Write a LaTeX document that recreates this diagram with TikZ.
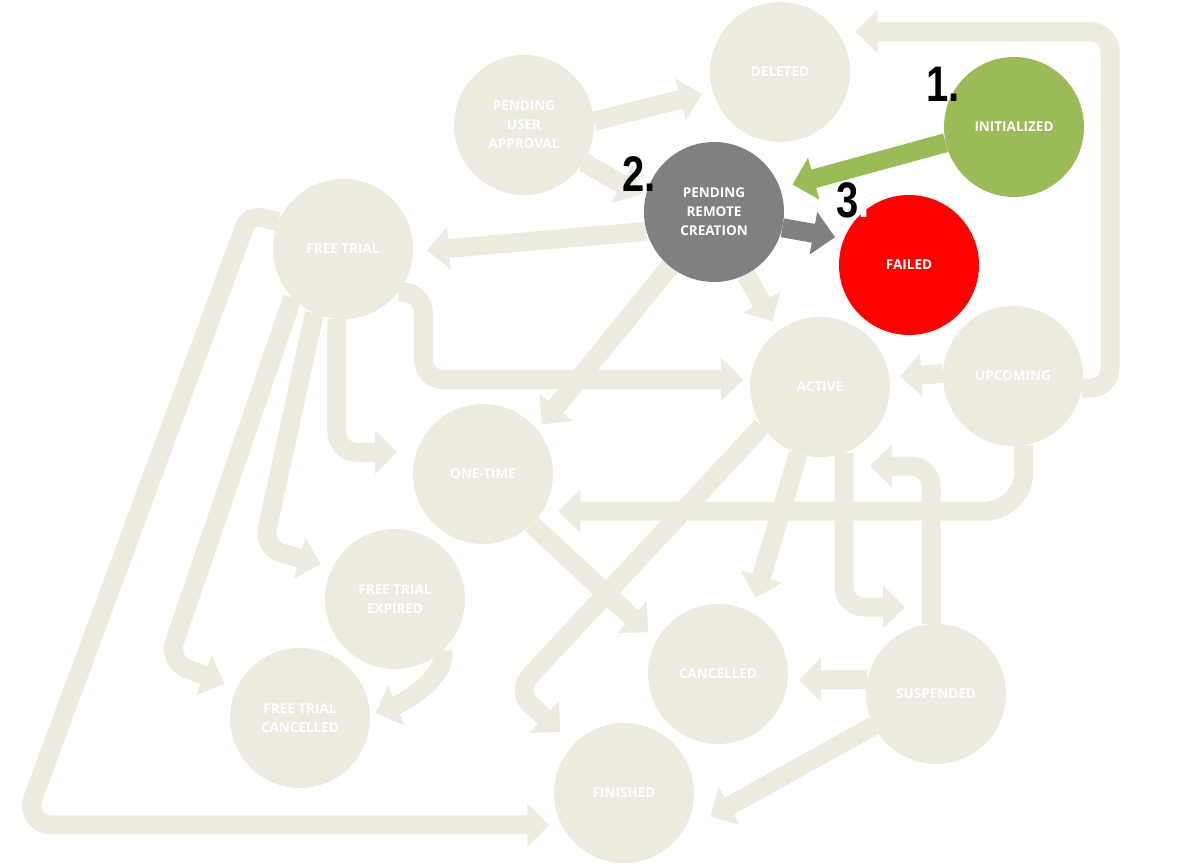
\documentclass[tikz,border=0pt]{standalone}
\usepackage{fontspec}
\usepackage{graphicx}
\setmainfont{Open Sans}
\newfontfamily\numfont{Liberation Sans}
\usetikzlibrary{arrows.meta}
\definecolor{beige}{HTML}{EDEBE0}
\definecolor{initgreen}{HTML}{9BBB59}
\definecolor{prcgray}{HTML}{808080}
\definecolor{failred}{HTML}{FF0000}
\pgfdeclarelayer{bg}
\pgfsetlayers{bg,main}
\begin{document}
\begin{tikzpicture}[x=1pt,y=-1pt,
  state/.style={circle,minimum size=140pt,inner sep=0pt,fill=beige,text=white,
    font=\fontsize{13.5}{19}\selectfont\bfseries,align=center},
  conn/.style={draw=beige,line width=19pt,-{Triangle[width=42pt,length=22pt]},rounded corners=20pt},
  num/.style={font=\numfont\bfseries\fontsize{50}{50}\selectfont,inner sep=0pt,anchor=base west,text=black}]
\useasboundingbox (0,0) rectangle (1200,864);

\node[state] (DEL) at (780,72) {DELETED};
\node[state] (PUA) at (524,125) {PENDING\\USER\\APPROVAL};
\node[state,fill=prcgray] (PRC) at (714,212) {PENDING\\REMOTE\\CREATION};
\node[state,fill=initgreen] (INIT) at (1014,127) {INITIALIZED};
\node[state,fill=failred] (FAIL) at (909,265) {FAILED};
\node[state] (FT) at (343,249) {FREE TRIAL};
\node[state] (OT) at (483,474) {ONE-TIME};
\node[state] (ACT) at (820,387) {ACTIVE};
\node[state] (UP) at (1013,376) {UPCOMING};
\node[state] (SUS) at (936,694) {SUSPENDED};
\node[state] (FTE) at (395,599) {FREE TRIAL\\EXPIRED};
\node[state] (FTC) at (300,718) {FREE TRIAL\\CANCELLED};
\node[state] (CAN) at (718,674) {CANCELLED};
\node[state] (FIN) at (624,793) {FINISHED};

\node[num] (n1) at (926,102) {\scalebox{0.8}[1]{1.}};
\node[num] (n2) at (622,192) {\scalebox{0.8}[1]{2.}};
\node[num] (n3) at (836,217) {\scalebox{0.8}[1]{3\textcolor{white}{.}}};

\coordinate (c10) at (263,548);
\coordinate (c11) at (168,661);
\coordinate (c12a) at (249,215);
\coordinate (c12b) at (23,825);
\coordinate (c17) at (516,691);
\coordinate (a2s) at (905,607);
\coordinate (s2a) at (870,466);

\begin{pgfonlayer}{bg}
\draw[conn,shorten >=11pt] (PUA.3) -- (DEL.196);
\draw[conn,shorten >=5pt] (PUA.328) -- (PRC.168);
\draw[conn,draw=initgreen,shorten >=13pt] (INIT.193) -- (PRC.20);
\draw[conn,draw=prcgray,shorten >=9pt] (PRC.347) -- (FAIL.158);
\draw[conn,shorten >=14pt] (PRC.196) -- (FT.358);
\draw[conn,shorten >=7pt] (PRC.center) -- (OT.39);
\draw[conn,shorten >=11pt] (PRC.297) -- (ACT.127);
\draw[conn,shorten >=7pt] (FT.322) -- ++(25,0) |- (ACT.174);
\draw[conn,shorten >=19pt] (FT.265) |- (OT.162);
\draw[conn,shorten >=12pt] (FT.246) -- (c10) -- (FTE.153);
\draw[conn,shorten >=13pt] (FT.224) -- (c11) -- (FTC.155);
\draw[conn,shorten >=12pt] (FT.157) [rounded corners=12pt] -- (c12a) [rounded corners=30pt] -- (c12b) -- (FIN.207);
\draw[conn,shorten >=6pt] (FTE.313) .. controls +(4,30) and +(30,-12) .. (FTC.2);
\draw[conn,shorten >=10pt] (UP.178) -- (ACT.8);
\draw[conn,shorten >=18pt] (UP.350) -- ++(28,0) |- (DEL.35);
\draw[conn,shorten >=16pt,rounded corners=40pt] (UP.279) |- (OT.328);
\draw[conn,shorten >=18pt] (ACT.214) -- (c17) -- (FIN.136);
\draw[conn,shorten >=15pt] (ACT.252) -- (CAN.62);
\draw[conn] (ACT.290) |- (a2s);
\draw[conn] (SUS.94) |- (s2a);
\draw[conn,shorten >=11pt] (SUS.168) -- (CAN.355);
\draw[conn,shorten >=32pt] (SUS.207) -- (FIN.326);
\draw[conn,shorten >=11.5pt] (OT.314) -- (CAN.151);
\end{pgfonlayer}
\end{tikzpicture}
\end{document}
